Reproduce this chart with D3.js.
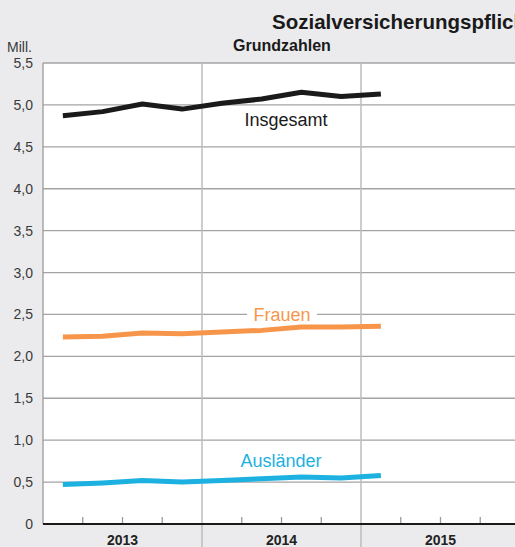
<!DOCTYPE html>
<html>
<head>
<meta charset="utf-8">
<script src="https://cdn.jsdelivr.net/npm/d3@7"></script>
<style>
  body { margin: 0; background: #ebebed; overflow: hidden; }
  svg { display: block; font-family: "Liberation Sans", Arial, sans-serif; }
</style>
</head>
<body>
<svg width="515" height="547"></svg>
<script>
// quarters Q1 2013 .. Q1 2015
var quarters = ["2013 Q1","2013 Q2","2013 Q3","2013 Q4","2014 Q1","2014 Q2","2014 Q3","2014 Q4","2015 Q1"];
var insgesamt = [4.87, 4.92, 5.01, 4.95, 5.02, 5.07, 5.15, 5.10, 5.13];
var frauen    = [2.23, 2.24, 2.28, 2.27, 2.29, 2.31, 2.35, 2.35, 2.36];
var auslaender = [0.47, 0.49, 0.52, 0.50, 0.52, 0.54, 0.56, 0.55, 0.58];
var years = ["2013", "2014", "2015"];
var yTicks = [0, 0.5, 1, 1.5, 2, 2.5, 3, 3.5, 4, 4.5, 5, 5.5];

var svg = d3.select("svg");

var plotLeft = 43, plotTop = 63, plotBottom = 524;
var x = d3.scaleLinear().domain([0, 12]).range([plotLeft, plotLeft + 12 * 39.75]);
var y = d3.scaleLinear().domain([0, 5.5]).range([plotBottom, plotTop]);

var fmt = function(d) { return d === 0 ? "0" : d3.format(".1f")(d).replace(".", ","); };

// plot background
svg.append("rect")
    .attr("x", plotLeft).attr("y", plotTop)
    .attr("width", 515 - plotLeft).attr("height", plotBottom - plotTop)
    .attr("fill", "#fff");

// horizontal grid
svg.append("g")
  .selectAll("line")
  .data(yTicks.filter(function(d) { return d > 0; }))
  .enter().append("line")
    .attr("x1", plotLeft).attr("x2", 515)
    .attr("y1", function(d) { return y(d); })
    .attr("y2", function(d) { return y(d); })
    .attr("stroke", "#a3a3a3")
    .attr("stroke-width", 1.3);

// year separators
svg.append("g")
  .selectAll("line")
  .data([4, 8])
  .enter().append("line")
    .attr("x1", function(d) { return x(d); })
    .attr("x2", function(d) { return x(d); })
    .attr("y1", plotTop).attr("y2", 547)
    .attr("stroke", "#bdbdbd")
    .attr("stroke-width", 1.5);

svg.append("line")
    .attr("x1", plotLeft).attr("x2", plotLeft)
    .attr("y1", plotTop).attr("y2", plotBottom)
    .attr("stroke", "#9a9a9a")
    .attr("stroke-width", 1.3);

// quarter ticks
svg.append("g")
  .selectAll("line")
  .data(d3.range(1, 13).filter(function(d) { return d % 4 !== 0; }))
  .enter().append("line")
    .attr("x1", function(d) { return x(d); })
    .attr("x2", function(d) { return x(d); })
    .attr("y1", plotBottom).attr("y2", plotBottom - 7)
    .attr("stroke", "#9a9a9a")
    .attr("stroke-width", 1.3);

// baseline
svg.append("line")
    .attr("x1", plotLeft).attr("x2", 515)
    .attr("y1", plotBottom).attr("y2", plotBottom)
    .attr("stroke", "#1a1a1a")
    .attr("stroke-width", 2);

// y labels
svg.append("g")
  .selectAll("text")
  .data(yTicks)
  .enter().append("text")
    .attr("x", 33)
    .attr("y", function(d) { return y(d) + 5; })
    .attr("text-anchor", "end")
    .attr("font-size", 14)
    .attr("fill", "#3a3a3a")
    .text(fmt);

svg.append("text")
    .attr("x", 7).attr("y", 52)
    .attr("font-size", 14)
    .attr("fill", "#3a3a3a")
    .text("Mill.");

// year labels
svg.append("g")
  .selectAll("text")
  .data(years)
  .enter().append("text")
    .attr("x", function(d, i) { return x(i * 4 + 2); })
    .attr("y", 545)
    .attr("text-anchor", "middle")
    .attr("font-size", 14)
    .attr("font-weight", "bold")
    .attr("fill", "#222")
    .text(function(d) { return d; });

// titles
svg.append("text")
    .attr("x", 272).attr("y", 29)
    .attr("font-size", 20.5)
    .attr("font-weight", "bold")
    .attr("fill", "#1a1a1a")
    .text("Sozialversicherungspflichtig Beschäftigte");

svg.append("text")
    .attr("x", 282).attr("y", 51)
    .attr("text-anchor", "middle")
    .attr("font-size", 16)
    .attr("font-weight", "bold")
    .attr("fill", "#1a1a1a")
    .text("Grundzahlen");

// series
var series = [
  { name: "Insgesamt", values: insgesamt, color: "#1a1a1a", lx: 286, ly: 126, knock: false },
  { name: "Frauen", values: frauen, color: "#f7964b", lx: 282, ly: 321, knock: true },
  { name: "Ausländer", values: auslaender, color: "#1cb1e0", lx: 281, ly: 467, knock: false }
];

var line = d3.line()
    .x(function(d, i) { return x(i + 0.5); })
    .y(function(d) { return y(d); });

series.forEach(function(s) {
  svg.append("path")
      .datum(s.values)
      .attr("d", line)
      .attr("fill", "none")
      .attr("stroke", s.color)
      .attr("stroke-width", 5)
      .attr("stroke-linejoin", "round");

  if (s.knock) {
    svg.append("rect")
        .attr("x", s.lx - 35).attr("y", s.ly - 15)
        .attr("width", 70).attr("height", 18)
        .attr("fill", "#fff");
  }
  svg.append("text")
      .attr("x", s.lx).attr("y", s.ly)
      .attr("text-anchor", "middle")
      .attr("font-size", 18)
      .attr("fill", s.color)
      .text(s.name);
});
</script>
</body>
</html>
